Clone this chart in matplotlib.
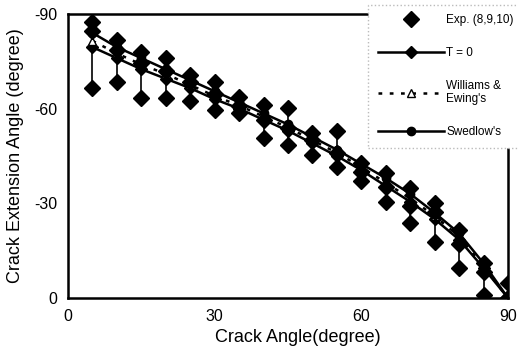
import matplotlib
matplotlib.use('Agg')
import matplotlib.pyplot as plt

plt.rcParams['font.family'] = ['Liberation Sans', 'DejaVu Sans']

# crack angle (degree)
angle = [5, 10, 15, 20, 25, 30, 35, 40, 45, 50, 55, 60, 65, 70, 75, 80, 85, 90]

# predictions (crack extension angle, degree)
t_zero = [-79.5, -76, -72.5, -69.5, -66.5, -63, -60, -56.5, -53, -49, -45, -40.5,
          -35.5, -30.5, -25, -18.5, -9.5, 0]
williams = [-81.5, -77.5, -74, -71, -67.5, -64, -61, -57.5, -54, -50, -46, -41.5,
            -36.5, -31.5, -26, -19.5, -10, 0]
swedlow = [-84, -79.5, -76, -72.5, -69, -65.5, -62, -58.5, -55, -51, -47, -42.5,
           -38, -33, -27, -20.5, -11, 0]

# experiments (8,9,10)
exp_a = [-87.5, -81.8, -78, -76, -70.7, -68.6, -63.8, -61.2, -60.3, -52.3, -53, -42.8,
         -39.7, -35, -30.2, -21.6, -11.2, -4.9]
exp_b = [-84.5, -78.5, -74.5, -72, -68.5, -64.5, -61, -56.5, -54, -50, -46, -40,
         -35.3, -29, -27.4, -17, -8.4, 0]
exp_c = [-66.5, -68.6, -63.3, -63.5, -62.5, -59.6, -58.7, -50.8, -48.5, -45.4, -41.5, -37,
         -30.5, -23.9, -17.9, -9.6, -1.1, 0]

fig = plt.figure(figsize=(5.18, 3.49), dpi=100)
ax = fig.add_axes([0.1313, 0.1461, 0.8494, 0.8138])

lo = [min(a, b, c) for a, b, c in zip(exp_a, exp_b, exp_c)]
hi = [max(a, b, c) for a, b, c in zip(exp_a, exp_b, exp_c)]
ax.vlines(angle, lo, hi, color='black', lw=1.2, zorder=2)

ax.plot(angle, t_zero, '-', color='black', lw=1.8, marker='D', ms=6, label='T = 0', zorder=3)
ax.plot(angle, williams, color='black', lw=1.8, ls=(0, (1.5, 3)), marker='^', ms=6,
        mfc='white', label="Williams &\nEwing's", zorder=3)
ax.plot(angle, swedlow, '-', color='black', lw=1.8, marker='o', ms=6, label="Swedlow's", zorder=3)
ax.plot(angle, exp_a, 'D', color='black', ms=8, label='Exp. (8,9,10)', zorder=4)
ax.plot(angle, exp_b, 'D', color='black', ms=8, zorder=4)
ax.plot(angle, exp_c, 'D', color='black', ms=8, zorder=4)

ax.set_xlim(0, 90)
ax.set_ylim(0, -90)
ax.set_xticks([0, 30, 60, 90])
ax.set_yticks([-90, -60, -30, 0])
ax.set_yticklabels(['-90', '-60', '-30', '0'])
ax.tick_params(length=0, labelsize=11.5, pad=8)
for s in ax.spines.values():
    s.set_linewidth(1.8)

ax.set_xlabel('Crack Angle(degree)', fontsize=13)
ax.xaxis.set_label_coords(0.523, -0.11)
ax.set_ylabel('Crack Extension Angle (degree)', fontsize=13)
ax.yaxis.set_label_coords(-0.1, 0.5)

handles, labels = ax.get_legend_handles_labels()
order = [3, 0, 1, 2]
leg = ax.legend([handles[i] for i in order], [labels[i] for i in order],
                loc='upper left', bbox_to_anchor=(0.682, 1.032), borderaxespad=0,
                fontsize=8.5, handlelength=5.6, labelspacing=1.75, borderpad=0.8,
                handletextpad=0.2, fancybox=False, framealpha=1)
leg.get_frame().set_edgecolor('#bbbbbb')
leg.get_frame().set_linestyle(':')
leg.set_zorder(10)

fig.savefig('out.png', dpi=100)
